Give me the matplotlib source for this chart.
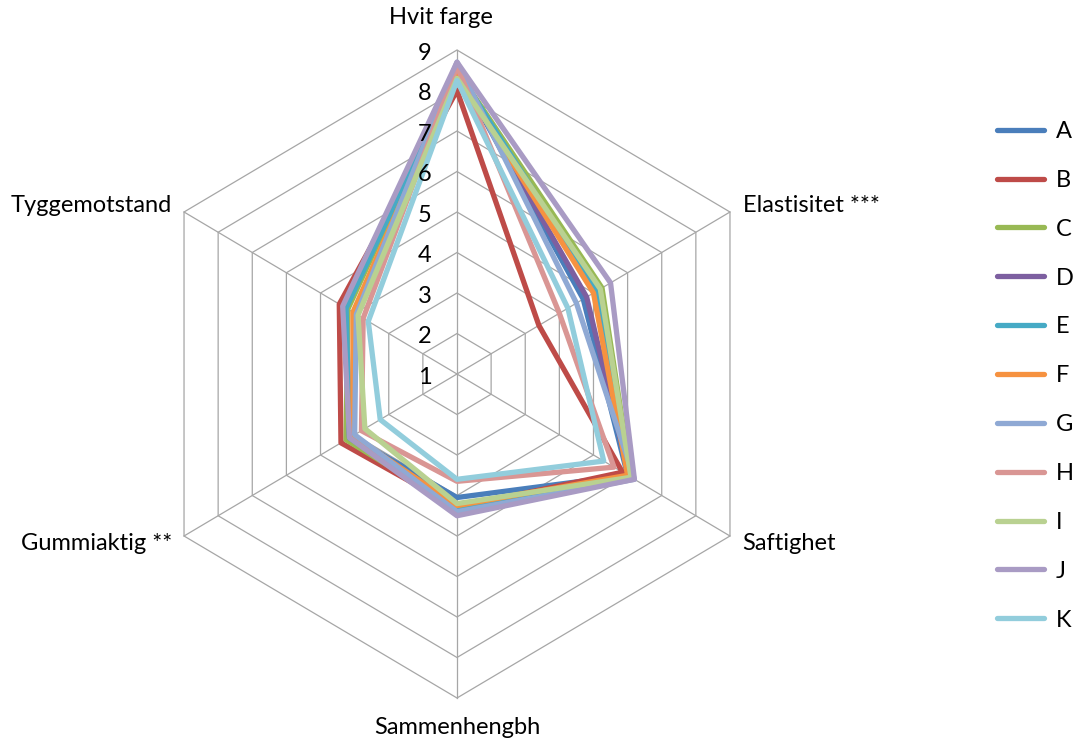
import numpy as np
import matplotlib.pyplot as plt
from matplotlib.patches import Polygon
from matplotlib.lines import Line2D

# sensory profile, scale 1-9
attributes = ["Hvit farge", "Elastisitet ***", "Saftighet",
              "Sammenhengbh", "Gummiaktig **", "Tyggemotstand"]
series = ["A", "B", "C", "D", "E", "F", "G", "H", "I", "J", "K"]

A = [8.5, 4.7, 6.0, 4.05, 4.1, 4.0]
B = [8.0, 3.4, 5.85, 4.3, 4.4, 4.45]
C = [8.5, 5.25, 6.1, 4.3, 4.25, 4.2]
D = [8.5, 4.8, 6.05, 4.3, 4.15, 4.3]
E = [8.5, 5.1, 6.1, 4.35, 4.15, 4.25]
F = [8.4, 5.0, 6.0, 4.25, 4.05, 4.05]
G = [8.7, 4.5, 6.2, 4.4, 4.0, 3.95]
H = [8.6, 4.0, 5.6, 3.65, 3.8, 3.75]
I = [8.3, 5.2, 6.1, 4.2, 3.7, 3.9]
J = [8.7, 5.5, 6.2, 4.5, 4.15, 4.35]
K = [8.25, 4.25, 5.3, 3.6, 3.25, 3.6]
values = [A, B, C, D, E, F, G, H, I, J, K]

colors = ["#4A7EBB", "#BE4B48", "#98B954", "#7D5FA0", "#46AAC5", "#F69240",
          "#8FA9D4", "#D99694", "#B9D191", "#A99BC4", "#92CDDC"]

ticks = list(range(1, 10))
vmin, vmax = 1, 9

W, H_PX = 1078, 744
CX, CY = 457, 374          # centre of the web in pixels
PX_X, PX_Y = 39.4, 40.5    # pixels per unit

plt.rcParams["font.family"] = ["Lato", "DejaVu Sans"]

fig = plt.figure(figsize=(W / 100, H_PX / 100), dpi=100)
ax = fig.add_axes([0, 0, 1, 1])
ax.set_xlim(-CX / PX_X, (W - CX) / PX_X)
ax.set_ylim(-(H_PX - CY) / PX_Y, CY / PX_Y)
ax.axis("off")

n = len(attributes)
theta = np.arange(n) * 2 * np.pi / n
sx, cy = np.sin(theta), np.cos(theta)

# hexagonal grid + spokes
for t in ticks[1:]:
    r = t - vmin
    ax.add_patch(Polygon(np.column_stack([r * sx, r * cy]), closed=True,
                         fill=False, ec="#A6A6A6", lw=0.9, zorder=1))
R = vmax - vmin
for i in range(n):
    ax.plot([0, R * sx[i]], [0, R * cy[i]], color="#A6A6A6", lw=0.9, zorder=1)

# tick labels along the top spoke
for t in ticks:
    ax.text(-0.65, t - vmin - 0.08, str(t), ha="right", va="center",
            fontsize=17, color="#000000")

# series
handles = []
for name, vals, col in zip(series, values, colors):
    r = np.array(vals) - vmin
    ax.add_patch(Polygon(np.column_stack([r * sx, r * cy]), closed=True,
                         fill=False, ec=col, lw=3.8, joinstyle="round",
                         zorder=2))
    handles.append(Line2D([], [], color=col, lw=3.8, solid_capstyle="round",
                          label=name))

# axis labels (pixel positions)
lab_pos = [(441, 18, "center"), (743, 205, "left"), (742, 543, "left"),
           (457, 728, "center"), (172, 543, "right"), (172, 205, "right")]
for name, (px, py, ha) in zip(attributes, lab_pos):
    fig.text(px / W, 1 - py / H_PX, name, ha=ha, va="center", fontsize=17)

fig.legend(handles=handles, loc="upper left",
           bbox_to_anchor=(997 / W, 1 - 121 / H_PX),
           frameon=False, fontsize=17, handlelength=2.0, handletextpad=0.5,
           labelspacing=1.18, borderpad=0, borderaxespad=0)

fig.savefig("out.png", dpi=100)
